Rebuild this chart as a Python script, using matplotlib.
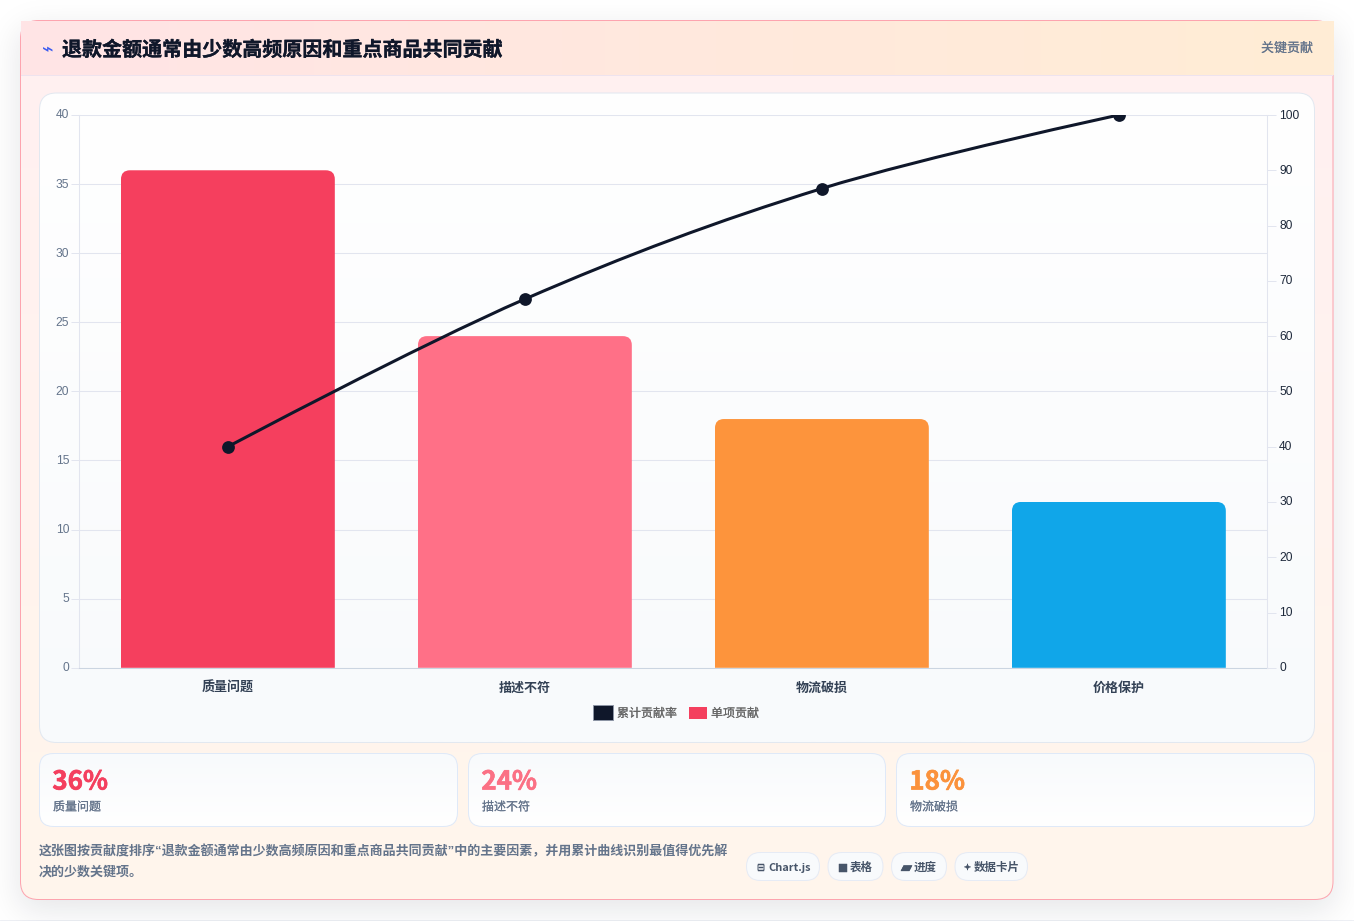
import math
import numpy as np
import matplotlib
matplotlib.use("Agg")
import matplotlib.pyplot as plt
import matplotlib.patheffects as pe
from matplotlib.patches import FancyBboxPatch, Rectangle, Patch
from matplotlib.path import Path
from matplotlib.patches import PathPatch
from matplotlib.legend_handler import HandlerPatch
from matplotlib.transforms import ScaledTranslation

plt.rcParams['font.family'] = ['Noto Sans CJK SC', 'DejaVu Sans']

title = "退款金额通常由少数高频原因和重点商品共同贡献"
badge = "关键贡献"
categories = ["质量问题", "描述不符", "物流破损", "价格保护"]
single_values = [36, 24, 18, 12]
cumulative_values = [40.0, 66.7, 86.7, 100.0]
bar_colors = ["#f53f5e", "#ff7087", "#fd943c", "#10a6e9"]
left_ticks = [0, 5, 10, 15, 20, 25, 30, 35, 40]
right_ticks = [0, 10, 20, 30, 40, 50, 60, 70, 80, 90, 100]
legend_labels = ["累计贡献率", "单项贡献"]
stat_values = ["36%", "24%", "18%"]
stat_labels = ["质量问题", "描述不符", "物流破损"]
stat_colors = ["#f43f5e", "#fb7185", "#fb923c"]
note_lines = ["这张图按贡献度排序“退款金额通常由少数高频原因和重点商品共同贡献”中的主要因素，并用累计曲线识别最值得优先解",
              "决的少数关键项。"]
pills = [("⊟", "Chart.js"), ("■", "表格"), ("▰", "进度"), ("✦", "数据卡片")]

W, H = 1354, 921
fig = plt.figure(figsize=(W / 100, H / 100), dpi=100, facecolor="#ffffff")

bg = fig.add_axes([0, 0, 1, 1], zorder=0)
bg.set_xlim(0, W)
bg.set_ylim(H, 0)
bg.axis("off")


def medium(color, w=0.1):
    return [pe.withStroke(linewidth=w, foreground=color)]


def rrect(x0, y0, x1, y1, r, fc="none", ec="none", lw=0.72, z=2):
    p = FancyBboxPatch((x0 + r, y0 + r), x1 - x0 - 2 * r, y1 - y0 - 2 * r,
                       boxstyle=f"round,pad={r},rounding_size={r}",
                       fc=fc, ec=ec, lw=lw, zorder=z, mutation_aspect=1)
    bg.add_patch(p)
    return p


def hexrgb(h):
    return np.array(matplotlib.colors.to_rgb(h))


def gradient(x0, y0, x1, y1, c0, c1, direction="v", clip=None, z=1):
    n = 256
    t = np.linspace(0, 1, n)
    a, b = hexrgb(c0), hexrgb(c1)
    arr = a[None, :] * (1 - t[:, None]) + b[None, :] * t[:, None]
    arr = arr[:, None, :] if direction == "v" else arr[None, :, :]
    im = bg.imshow(arr, extent=(x0, x1, y1, y0), aspect="auto", zorder=z,
                   interpolation="bilinear", origin="upper")
    if clip is not None:
        im.set_clip_path(clip)
    return im


# Page bottom hairline
bg.add_patch(Rectangle((0, 920), W, 1, fc="#eef0f5", ec="none", zorder=0.1))

# Card shadow
erf = np.vectorize(math.erf)
xs = np.arange(W) + 0.5
ys = np.arange(H) + 0.5
sig = 17.0
sx = 0.5 * (erf((xs - 20) / (sig * 2 ** .5)) - erf((xs - 1333) / (sig * 2 ** .5)))
sy = 0.5 * (erf((ys - 31) / (sig * 2 ** .5)) - erf((ys - 909) / (sig * 2 ** .5)))
alpha = 0.115 * np.outer(sy, sx)
shadow = np.zeros((H, W, 4))
shadow[..., :3] = hexrgb("#0f172a")
shadow[..., 3] = alpha
bg.imshow(shadow, extent=(0, W, H, 0), aspect="auto", zorder=0.5, interpolation="nearest")
bg.set_xlim(0, W)
bg.set_ylim(H, 0)

# Card
card_clip = rrect(20.5, 20.5, 1333, 899.5, 18, fc="#fff2f0", ec="none", z=1)
gradient(20.5, 20.5, 1333, 899.5, "#fff0f1", "#fff6ec", clip=card_clip, z=1.1)
rrect(20.5, 20.5, 1333, 899.5, 18, fc="none", ec="#fda4af", z=1.3)

# Header
gradient(20.7, 21.2, 1332.8, 75.2, "#ffe4e6", "#ffedd5", direction="h", z=1.5)
bg.add_patch(Rectangle((20.7, 75), 1312, 1, fc="#eee3ee", ec="none", zorder=1.6))
bg.text(47.5, 50, "⌁", color="#3b5bf0", fontsize=14, ha="center", va="center",
        family=["DejaVu Sans"], zorder=3)
bg.text(62, 49.5, title, color="#0f172a", fontsize=14.42, fontweight="bold", ha="left",
        va="center", zorder=3, path_effects=medium("#0f172a", 0.2))
bg.text(1313, 48.5, badge, color="#64748b", fontsize=9.36, ha="right", va="center", zorder=3,
        path_effects=medium("#64748b"))

# Chart panel
panel_clip = rrect(39.5, 93, 1314.5, 742.5, 17, fc="#ffffff", ec="none", z=1.7)
gradient(39.5, 93, 1314.5, 742.5, "#ffffff", "#f8fafc", clip=panel_clip, z=1.8)
rrect(39.5, 93, 1314.5, 742.5, 17, fc="none", ec="#e2e8f0", z=1.9)

# Stat cards
stat_x = [(39.5, 457.5), (468.5, 885.5), (896.5, 1314.5)]
for (x0, x1), v, lab, col in zip(stat_x, stat_values, stat_labels, stat_colors):
    clip = rrect(x0, 753.5, x1, 826.5, 14, fc="#ffffff", ec="none", z=1.7)
    gradient(x0, 753.5, x1, 826.5, "#f8fafc", "#ffffff", clip=clip, z=1.8)
    rrect(x0, 753.5, x1, 826.5, 14, fc="none", ec="#dfe9f8", z=1.9)
    bg.text(x0 + 12.8, 782, v, color=col, fontsize=18.7, fontweight="bold",
            ha="left", va="center", zorder=3, path_effects=medium(col, 0.45))
    bg.text(x0 + 13.5, 807, lab, color="#64748b", fontsize=8.64, ha="left", va="center", zorder=3,
            path_effects=medium("#64748b"))

# Note
for y, line in zip((852, 872), note_lines):
    bg.text(39, y, line, color="#64748b", fontsize=9.36, fontweight="bold",
            family=["Liberation Sans", "Noto Sans CJK SC"],
            ha="left", va="center", zorder=3)

# Pills
pill_x = [(746.5, 819.5), (828, 883), (891.5, 946.5), (955, 1027.5)]
pill_icon_x = [761, 843, 906.5, 967.5]
pill_text_x = [768.5, 850, 914, 974]
icon_sizes = [7.5, 7.5, 10.5, 6]
label_sizes = [7.92, 8.28, 8.28, 8.28]
for (x0, x1), (ic, lab), ix, tx, isz, lsz in zip(pill_x, pills, pill_icon_x, pill_text_x,
                                                 icon_sizes, label_sizes):
    rrect(x0, 852.5, x1, 880.5, 14, fc="#f8fafc", ec="#e6ebf5", z=2)
    bg.text(ix, 867.5, ic, color="#475569", fontsize=isz,
            family=["DejaVu Sans"], ha="center", va="center", zorder=3,
            path_effects=medium("#475569", 0.35))
    bg.text(tx, 867.5, lab, color="#475569", fontsize=lsz,
            fontweight="bold", ha="left", va="center", zorder=3)

# Chart axes
L, R, T, B = 79.4, 1267.4, 115.0, 667.8
ax = fig.add_axes([L / W, 1 - B / H, (R - L) / W, (B - T) / H], zorder=2)
ax.patch.set_alpha(0)
x = np.arange(len(categories))
ax.set_xlim(-0.5, len(categories) - 0.5)
ax.set_ylim(0, 40)
ax.set_axisbelow(True)
ax.yaxis.grid(True, color="#e2e5ef", lw=0.75)
ax.xaxis.grid(False)
ax.set_yticks(left_ticks)
ax.set_xticks(x, categories)
ax.tick_params(axis="y", length=5.8, width=0.72, color="#e2e5ef", labelcolor="#64748b",
               labelsize=8.64, pad=1.5)
ax.tick_params(axis="x", length=0, labelcolor="#334155", labelsize=9.36, pad=9.3)
for lab in ax.get_xticklabels():
    lab.set_fontweight("bold")
up_one_px = ScaledTranslation(0, 1 / 100, fig.dpi_scale_trans)
for lab in ax.get_yticklabels():
    lab.set_fontfamily(["Liberation Sans"])
    lab.set_transform(lab.get_transform() + up_one_px)
for s in ("top", "right"):
    ax.spines[s].set_visible(False)
ax.spines["left"].set_color("#e2e5ef")
ax.spines["left"].set_linewidth(0.75)
ax.spines["bottom"].set_color("#cbd5e1")
ax.spines["bottom"].set_linewidth(0.75)

bar_w = 0.72
bars = ax.bar(x, single_values, width=bar_w, color=bar_colors, linewidth=0, zorder=2)
px_x = (R - L) / len(categories)
px_y = (B - T) / 40
radius = 9.0
for b in bars:
    x0, w, h = b.get_x(), b.get_width(), b.get_height()
    rx, ry = radius / px_x, radius / px_y
    verts = [(x0, 0), (x0, h - ry), (x0, h), (x0 + rx, h), (x0 + w - rx, h),
             (x0 + w, h), (x0 + w, h - ry), (x0 + w, 0), (x0, 0)]
    codes = [Path.MOVETO, Path.LINETO, Path.CURVE3, Path.CURVE3, Path.LINETO,
             Path.CURVE3, Path.CURVE3, Path.LINETO, Path.CLOSEPOLY]
    b.set_clip_path(Path(verts, codes), ax.transData)

ax2 = ax.twinx()
ax2.patch.set_alpha(0)
ax2.set_ylim(0, 100)
ax2.set_yticks(right_ticks)
ax2.tick_params(axis="y", length=6.5, width=0.72, color="#e2e5ef", labelcolor="#1e293b",
                labelsize=8.64, pad=2)
for lab in ax2.get_yticklabels():
    lab.set_fontfamily(["Liberation Sans"])
    lab.set_transform(lab.get_transform() + up_one_px)
for s in ("top", "left", "bottom"):
    ax2.spines[s].set_visible(False)
ax2.spines["right"].set_color("#e2e5ef")
ax2.spines["right"].set_linewidth(0.75)

# Chart.js style tension spline through the cumulative points
tension = 0.35
pts = np.column_stack([x.astype(float), np.array(cumulative_values, float)])
sc = np.array([px_x, (B - T) / 100])
verts = [tuple(pts[0])]
codes = [Path.MOVETO]
ctrl_in, ctrl_out = {}, {}
for i in range(len(pts)):
    if i == 0 or i == len(pts) - 1:
        ctrl_in[i] = ctrl_out[i] = pts[i]
        continue
    d01 = np.linalg.norm((pts[i] - pts[i - 1]) * sc)
    d12 = np.linalg.norm((pts[i + 1] - pts[i]) * sc)
    diff = pts[i + 1] - pts[i - 1]
    ctrl_in[i] = pts[i] - tension * d01 / (d01 + d12) * diff
    ctrl_out[i] = pts[i] + tension * d12 / (d01 + d12) * diff
for i in range(len(pts) - 1):
    verts += [tuple(ctrl_out[i]), tuple(ctrl_in[i + 1]), tuple(pts[i + 1])]
    codes += [Path.CURVE4] * 3
ax2.add_patch(PathPatch(Path(verts, codes), fc="none", ec="#0f172a", lw=2.2, zorder=4))
line, = ax2.plot(x, cumulative_values, ls="none", marker="o", ms=9.2, mfc="#0f172a",
                 mec="#0f172a", mew=0, zorder=5)


# Legend with distinct swatch sizes
class Swatch(HandlerPatch):
    def __init__(self, bw, bh, **kw):
        super().__init__(**kw)
        self.bw, self.bh = bw, bh

    def create_artists(self, legend, orig, xd, yd, width, height, fontsize, trans):
        k = 100 / 72
        w, h = self.bw / k, self.bh / k
        r = Rectangle((-xd + width - w, -yd + (height - h) / 2), w, h,
                      fc=orig.get_facecolor(), ec=orig.get_edgecolor(),
                      lw=orig.get_linewidth(), transform=trans)
        return [r]


h1 = Patch(fc="#0f172a", ec="#8d95a5", lw=0.7)
h2 = Patch(fc="#f43f5e", ec="none", lw=0)
leg = fig.legend([h1, h2], legend_labels, loc="center", ncol=2, frameon=False,
                 fontsize=8.64, labelcolor="#666666",
                 bbox_to_anchor=(676 / W, 1 - 713.5 / H),
                 bbox_transform=fig.transFigure, handlelength=20 / 12,
                 handletextpad=4 / 12, columnspacing=10 / 12, borderpad=0,
                 handler_map={h1: Swatch(20, 15), h2: Swatch(18, 12)})
leg.set_zorder(5)
for t in leg.get_texts():
    t.set_path_effects(medium("#666666"))

fig.savefig("out.png", dpi=100)
